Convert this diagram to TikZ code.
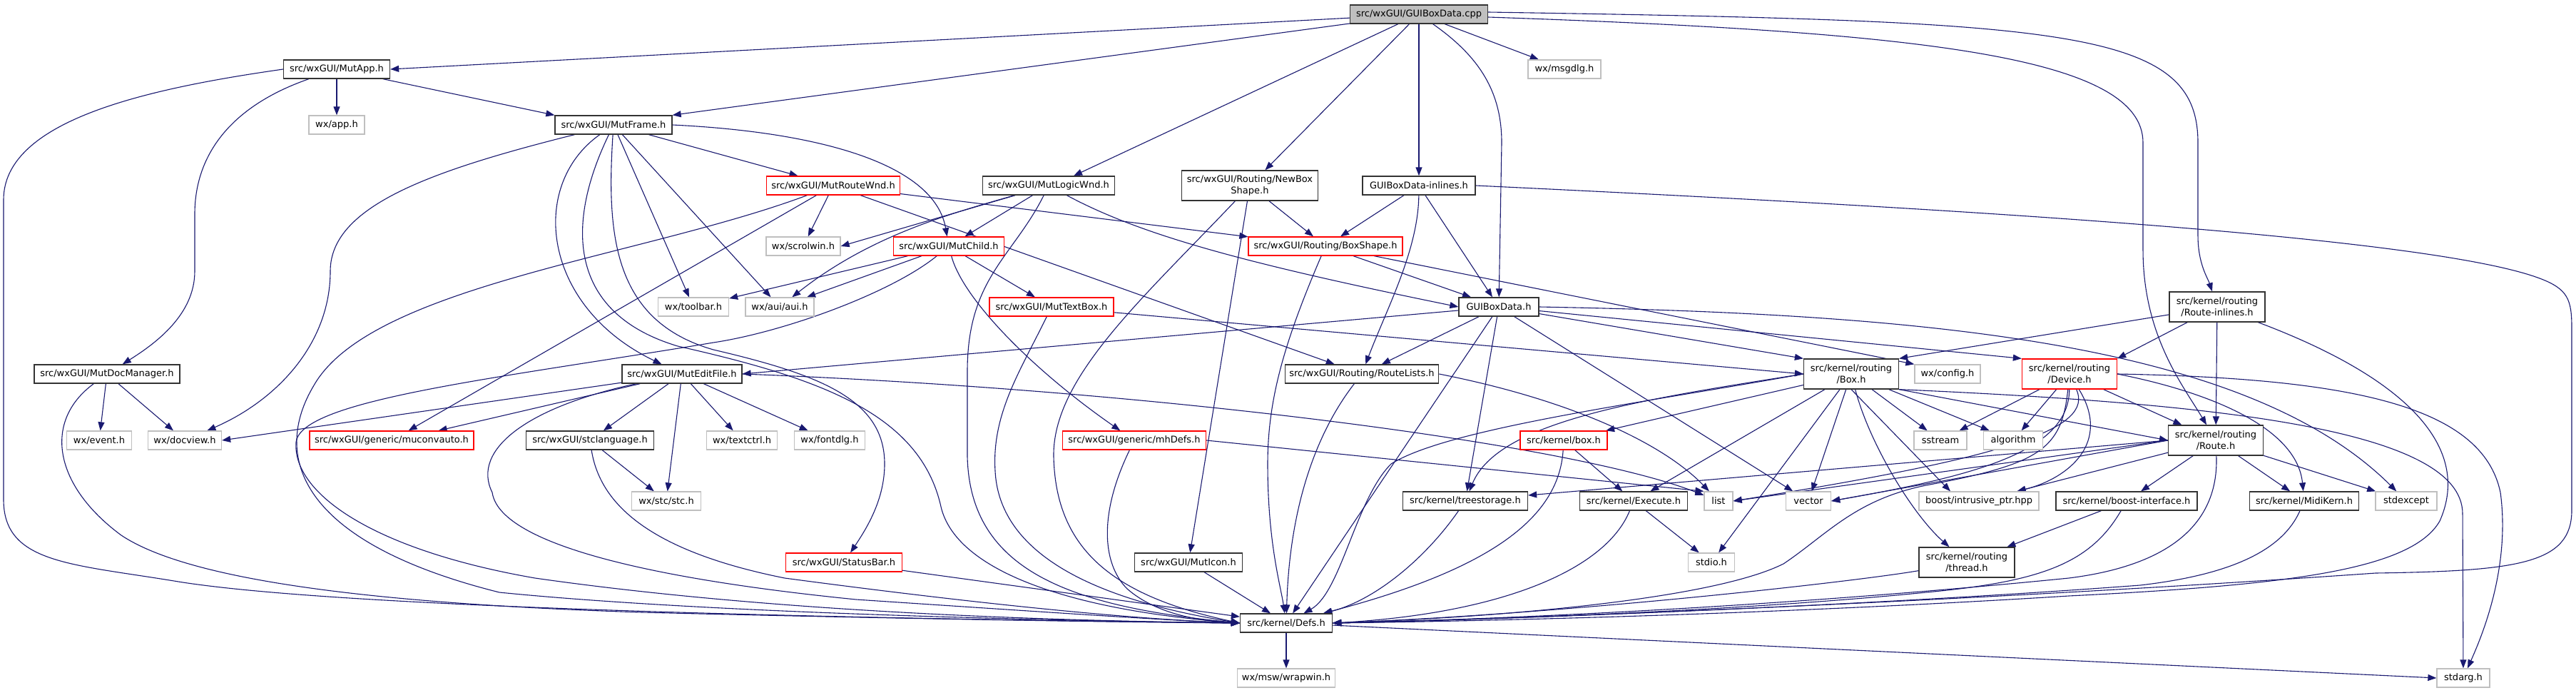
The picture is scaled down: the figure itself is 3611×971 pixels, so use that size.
\documentclass[tikz,border=0pt]{standalone}
\usepackage{fontspec}
\setmainfont{DejaVu Sans}
\usetikzlibrary{arrows.meta}
\definecolor{ebl}{HTML}{191970}
\definecolor{gry}{HTML}{BFBFBF}
\definecolor{rootfill}{HTML}{BFBFBF}
\pgfdeclarelayer{bg}
\pgfdeclarelayer{edges}
\pgfsetlayers{bg,edges,main}
\begin{document}
\begin{tikzpicture}[x=1pt,y=1pt,
 base/.style={rectangle, inner xsep=6pt, inner ysep=0pt, minimum height=26pt, font=\fontsize{13}{15.5}\selectfont, line width=1.3pt, fill=white, text=black, align=center},
 nb/.style={base, draw=black!80},
 nr/.style={base, draw=red},
 ng/.style={base, draw=gry},
 tall/.style={minimum height=42pt},
 e/.style={draw=ebl, line width=1.1pt, -{Triangle[length=12pt,width=9pt]}},
]
\begin{pgfonlayer}{bg}
\fill[white] (0,0) rectangle (3611,-971);
\end{pgfonlayer}
\useasboundingbox (0,0) rectangle (3611,-971);

% nodes
\node[nb,fill=rootfill,minimum width=193pt] (cpp) at (1989,-20) {src/wxGUI/GUIBoxData.cpp};
\node[nb,minimum width=149pt] (mutapp) at (472,-97) {src/wxGUI/MutApp.h};
\node[ng,minimum width=102pt] (msgdlg) at (2193,-97) {wx/msgdlg.h};
\node[ng,minimum width=78pt] (app) at (472,-175) {wx/app.h};
\node[nb,minimum width=164pt] (mutframe) at (860,-175) {src/wxGUI/MutFrame.h};
\node[nr,minimum width=187pt] (mutroute) at (1168,-260) {src/wxGUI/MutRouteWnd.h};
\node[nb,minimum width=185pt] (mutlogic) at (1470,-260) {src/wxGUI/MutLogicWnd.h};
\node[nb,tall,minimum width=191pt] (newbox) at (1752,-260) {src/wxGUI/Routing/NewBox\\Shape.h};
\node[nb,minimum width=158pt] (inl) at (1989,-260) {GUIBoxData-inlines.h};
\node[ng,minimum width=104pt] (scrolwin) at (1126,-345) {wx/scrolwin.h};
\node[nr,minimum width=155pt] (mutchild) at (1330,-345) {src/wxGUI/MutChild.h};
\node[nr,minimum width=216pt] (boxshape) at (1858,-345) {src/wxGUI/Routing/BoxShape.h};
\node[ng,minimum width=99pt] (toolbar) at (972,-430) {wx/toolbar.h};
\node[ng,minimum width=96pt] (aui) at (1093,-430) {wx/aui/aui.h};
\node[nr,minimum width=174pt] (mutextbox) at (1474,-430) {src/wxGUI/MutTextBox.h};
\node[nb,minimum width=112pt] (gbdh) at (2101,-430) {GUIBoxData.h};
\node[nb,tall,minimum width=134pt] (routeinl) at (3108,-430) {src/kernel/routing\\/Route-inlines.h};
\node[nb,minimum width=204pt] (docmgr) at (150,-524) {src/wxGUI/MutDocManager.h};
\node[nb,minimum width=168pt] (mutedit) at (956,-524) {src/wxGUI/MutEditFile.h};
\node[nb,minimum width=215pt] (routelists) at (1909,-524) {src/wxGUI/Routing/RouteLists.h};
\node[nb,tall,minimum width=133pt] (box) at (2595,-524) {src/kernel/routing\\/Box.h};
\node[ng,minimum width=92pt] (config) at (2730,-524) {wx/config.h};
\node[nr,tall,minimum width=133pt] (device) at (2901,-524) {src/kernel/routing\\/Device.h};
\node[ng,minimum width=91pt] (event) at (139,-617) {wx/event.h};
\node[ng,minimum width=103pt] (docview) at (259,-617) {wx/docview.h};
\node[nr,minimum width=230pt] (muconv) at (549,-617) {src/wxGUI/generic/muconvauto.h};
\node[nb,minimum width=179pt] (stclang) at (827,-617) {src/wxGUI/stclanguage.h};
\node[ng,minimum width=99pt] (textctrl) at (1040,-617) {wx/textctrl.h};
\node[ng,minimum width=99pt] (fontdlg) at (1163,-617) {wx/fontdlg.h};
\node[nr,minimum width=201pt] (mhdefs) at (1590,-617) {src/wxGUI/generic/mhDefs.h};
\node[nr,minimum width=122pt] (boxh) at (2192,-617) {src/kernel/box.h};
\node[ng,minimum width=74pt] (sstream) at (2720,-617) {sstream};
\node[ng,minimum width=83pt] (algorithm) at (2822,-617) {algorithm};
\node[nb,tall,minimum width=133pt] (route) at (3106,-617) {src/kernel/routing\\/Route.h};
\node[ng,minimum width=97pt] (stc) at (934,-702) {wx/stc/stc.h};
\node[nb,minimum width=175pt] (treestorage) at (2054,-702) {src/kernel/treestorage.h};
\node[nb,minimum width=151pt] (execute) at (2290,-702) {src/kernel/Execute.h};
\node[ng,minimum width=40pt] (list) at (2409,-702) {list};
\node[ng,minimum width=63pt] (vector) at (2535,-702) {vector};
\node[ng,minimum width=168pt] (intrusive) at (2774,-702) {boost/intrusive\_ptr.hpp};
\node[nb,minimum width=198pt] (boostif) at (2981,-702) {src/kernel/boost-interface.h};
\node[nb,minimum width=153pt] (midikern) at (3230,-702) {src/kernel/MidiKern.h};
\node[ng,minimum width=86pt] (stdexcept) at (3373,-702) {stdexcept};
\node[nr,minimum width=163pt] (statusbar) at (1183,-788) {src/wxGUI/StatusBar.h};
\node[nb,minimum width=151pt] (muticon) at (1666,-788) {src/wxGUI/MutIcon.h};
\node[ng,minimum width=65pt] (stdio) at (2399,-788) {stdio.h};
\node[nb,tall,minimum width=134pt] (thread) at (2757,-788) {src/kernel/routing\\/thread.h};
\node[nb,minimum width=129pt] (defs) at (1803,-873) {src/kernel/Defs.h};
\node[ng,minimum width=137pt] (wrapwin) at (1803,-950) {wx/msw/wrapwin.h};
\node[ng,minimum width=74pt] (stdarg) at (3453,-950) {stdarg.h};

\begin{pgfonlayer}{edges}
% GUIBoxData.cpp
\draw[e] (cpp) -- (mutapp.east);
\draw[e] (cpp) -- (mutframe.north east);
\draw[e] (cpp) -- ([xshift=35pt]mutlogic.north);
\draw[e] (cpp) -- (newbox);
\draw[e] (cpp) -- (inl);
\draw[e] (cpp) .. controls (2075,-80) and (2105,-130) .. (2105,-200) -- (gbdh);
\draw[e] (cpp) -- (msgdlg);
\draw[e] ([yshift=3pt]cpp.east) .. controls (2900,-30) and (3081,-40) .. (3081,-200) -- (3081,-330) .. controls (3081,-370) and (3095,-390) .. (routeinl);
\draw[e] ([yshift=-4pt]cpp.east) .. controls (2700,-45) and (3004,-80) .. (3004,-200) -- (3004,-350) .. controls (3004,-470) and (3060,-540) .. (route);
% MutApp
\draw[e] (mutapp) -- (app);
\draw[e] (mutapp) -- (mutframe.north west);
\draw[e] (mutapp) .. controls (320,-150) and (273,-220) .. (273,-300) -- (273,-380) .. controls (273,-440) and (220,-480) .. (docmgr);
\draw[e] (mutapp.west) .. controls (200,-125) and (5,-170) .. (5,-280) -- (5,-700) .. controls (5,-790) and (100,-790) .. (250,-815) .. controls (500,-855) and (1300,-868) .. (defs.west);
% MutDocManager
\draw[e] (docmgr) -- (event);
\draw[e] (docmgr) -- (docview);
\draw[e] (docmgr) .. controls (60,-590) and (75,-680) .. (170,-750) .. controls (260,-810) and (500,-845) .. (900,-858) .. controls (1300,-868) and (1600,-872) .. (defs.west);
% MutFrame
\draw[e] (mutframe) .. controls (600,-240) and (463,-290) .. (463,-380) .. controls (463,-480) and (390,-560) .. (docview);
\draw[e] (mutframe) -- (mutroute);
\draw[e] (mutframe.east) .. controls (1150,-185) and (1310,-230) .. (mutchild);
\draw[e] (mutframe) -- (toolbar);
\draw[e] (mutframe) -- (aui);
\draw[e] (mutframe) .. controls (740,-260) and (760,-430) .. (mutedit);
\draw[e] (mutframe) .. controls (850,-330) and (860,-450) .. (1000,-490) .. controls (1150,-525) and (1240,-560) .. (1240,-650) .. controls (1240,-700) and (1215,-740) .. (statusbar);
\draw[e] (mutframe) .. controls (790,-320) and (800,-440) .. (950,-485) .. controls (1150,-530) and (1290,-580) .. (1319,-710) .. controls (1340,-800) and (1500,-855) .. (defs.west);
% MutRouteWnd
\draw[e] (mutroute) -- (scrolwin);
\draw[e] (mutroute) -- (boxshape);
\draw[e] (mutroute) -- (routelists);
\draw[e] (mutroute) -- (muconv);
\draw[e] (mutroute) .. controls (900,-360) and (520,-400) .. (440,-540) .. controls (380,-640) and (420,-760) .. (700,-830) .. controls (1000,-860) and (1500,-870) .. (defs.west);
% MutLogicWnd
\draw[e] (mutlogic) -- (scrolwin.east);
\draw[e] (mutlogic) .. controls (1330,-300) and (1220,-330) .. (aui);
\draw[e] (mutlogic) -- (mutchild);
\draw[e] (mutlogic) .. controls (1600,-330) and (1750,-370) .. (gbdh.west);
\draw[e] (mutlogic) .. controls (1420,-360) and (1356,-390) .. (1356,-520) -- (1356,-640) .. controls (1360,-800) and (1500,-850) .. (defs.west);
% MutChild
\draw[e] (mutchild) -- (toolbar);
\draw[e] (mutchild) -- (aui);
\draw[e] (mutchild) -- (mutextbox);
\draw[e] (mutchild) .. controls (1350,-420) and (1450,-520) .. (mhdefs);
\draw[e] (mutchild) .. controls (1250,-410) and (1100,-465) .. (1000,-480) .. controls (700,-530) and (420,-560) .. (415,-620) .. controls (410,-690) and (520,-770) .. (750,-810) .. controls (1100,-860) and (1500,-870) .. (defs.west);
% MutTextBox
\draw[e] (mutextbox) -- (box.west);
\draw[e] (mutextbox) .. controls (1430,-520) and (1390,-580) .. (1395,-660) .. controls (1400,-760) and (1500,-835) .. (defs.west);
% NewBoxShape
\draw[e] (newbox) -- (boxshape);
\draw[e] (newbox) -- (muticon);
\draw[e] (newbox) .. controls (1600,-420) and (1475,-530) .. (1477,-640) .. controls (1480,-770) and (1560,-835) .. (defs.west);
% GUIBoxData-inlines
\draw[e] (inl) -- (boxshape);
\draw[e] (inl) -- (gbdh);
\draw[e] (inl) .. controls (1988,-350) and (1945,-430) .. (routelists);
\draw[e] (inl.east) .. controls (2700,-290) and (3400,-330) .. (3560,-390) .. controls (3600,-405) and (3605,-420) .. (3605,-460) -- (3605,-715) .. controls (3605,-790) and (3530,-800) .. (3330,-803) .. controls (2800,-840) and (2200,-865) .. (defs.east);
% BoxShape
\draw[e] (boxshape) -- (gbdh);
\draw[e] (boxshape) .. controls (1800,-480) and (1777,-560) .. (1777,-650) .. controls (1777,-760) and (1795,-820) .. (defs);
\draw[e] (boxshape) -- (config.north west);
% GUIBoxData.h
\draw[e] (gbdh) -- (mutedit.east);
\draw[e] (gbdh) -- (routelists);
\draw[e] (gbdh) -- (box.north west);
\draw[e] (gbdh) -- (device.north west);
\draw[e] (gbdh) -- (treestorage);
\draw[e] (gbdh) -- (defs);
\draw[e] (gbdh) -- (vector);
\draw[e] (gbdh.east) .. controls (2700,-440) and (3150,-480) .. (stdexcept);
% RouteLists
\draw[e] (routelists.east) .. controls (2200,-560) and (2330,-620) .. (list);
\draw[e] (routelists) .. controls (1850,-600) and (1808,-700) .. (defs);
% MutEditFile
\draw[e] (mutedit) -- (docview.east);
\draw[e] (mutedit) -- ([xshift=-50pt]muconv.north east);
\draw[e] (mutedit) -- (stclang);
\draw[e] (mutedit) -- (stc);
\draw[e] (mutedit) -- (textctrl);
\draw[e] (mutedit) -- (fontdlg);
\draw[e] (mutedit.east) .. controls (1600,-545) and (2200,-620) .. (list);
\draw[e] (mutedit) .. controls (740,-570) and (660,-630) .. (690,-690) .. controls (700,-760) and (900,-810) .. (1200,-840) .. controls (1500,-860) and (1650,-870) .. (defs.west);
% stclanguage
\draw[e] (stclang) -- (stc);
\draw[e] (stclang) .. controls (840,-700) and (900,-770) .. (1100,-810) .. controls (1400,-850) and (1600,-868) .. (defs.west);
% StatusBar, mhDefs, MutIcon
\draw[e] (statusbar) -- (defs);
\draw[e] (mhdefs.east) -- (list.north west);
\draw[e] (mhdefs) .. controls (1540,-720) and (1545,-790) .. (1580,-825) .. controls (1620,-860) and (1680,-870) .. (defs.west);
\draw[e] (muticon) -- (defs);
% Defs
\draw[e] (defs) -- (wrapwin);
\draw[e] (defs) -- (stdarg.west);
% Box.h
\draw[e] (box) -- (sstream);
\draw[e] (box) -- (algorithm);
\draw[e] (box) -- (vector);
\draw[e] (box) -- (stdio);
\draw[e] (box) .. controls (2620,-620) and (2680,-720) .. (thread);
\draw[e] (box.south) -- ([xshift=-40pt]intrusive.north);
\draw[e] (box) -- (boxh);
\draw[e] (box) -- (execute);
\draw[e] (box.west) .. controls (2300,-560) and (2100,-590) .. (treestorage);
\draw[e] (box.west) .. controls (2300,-565) and (2030,-600) .. (1950,-650) .. controls (1900,-700) and (1880,-830) .. (defs);
\draw[e] (box.south east) .. controls (3100,-565) and (3452,-600) .. (3452,-720) -- (stdarg);
\draw[e] (box.south east) -- (route.west);
% box.h
\draw[e] (boxh) -- (execute);
\draw[e] (boxh) .. controls (2185,-730) and (2080,-800) .. (defs);
% treestorage, Execute
\draw[e] (treestorage) .. controls (2000,-780) and (1930,-840) .. (defs);
\draw[e] (execute) -- (stdio);
\draw[e] (execute) .. controls (2250,-800) and (2100,-860) .. (defs.east);
% Device.h
\draw[e] (device) -- (sstream);
\draw[e] (device) -- (algorithm);
\draw[e] (device) .. controls (2900,-630) and (2780,-665) .. (vector.east);
\draw[e] (device) .. controls (2935,-600) and (2820,-640) .. (list.east);
\draw[e] (device) .. controls (2960,-620) and (2900,-670) .. (intrusive);
\draw[e] (device) .. controls (2890,-630) and (2860,-650) .. (2700,-680) .. controls (2600,-700) and (2560,-750) .. (2500,-790) .. controls (2400,-840) and (2100,-865) .. (defs.east);
\draw[e] (device) -- (route);
\draw[e] (device.east) .. controls (3100,-550) and (3220,-600) .. (midikern);
\draw[e] (device.east) .. controls (3300,-530) and (3480,-570) .. (3505,-690) .. controls (3520,-800) and (3475,-900) .. (stdarg);
% Route.h
\draw[e] (route.west) -- (list.east);
\draw[e] (route.west) -- (vector.east);
\draw[e] (route.west) -- ([yshift=8pt]treestorage.east);
\draw[e] (route) -- (intrusive);
\draw[e] (route) -- (boostif);
\draw[e] (route) -- (midikern);
\draw[e] (route) -- (stdexcept);
\draw[e] (route) .. controls (3110,-720) and (3060,-790) .. (2900,-810) .. controls (2500,-850) and (2100,-868) .. (defs.east);
% boost-interface, thread, MidiKern
\draw[e] (boostif) -- (thread);
\draw[e] (boostif) .. controls (2930,-790) and (2860,-815) .. (2700,-830) .. controls (2400,-860) and (2000,-870) .. (defs.east);
\draw[e] (thread) .. controls (2600,-815) and (2200,-860) .. (defs.east);
\draw[e] (midikern) .. controls (3200,-770) and (3130,-805) .. (3000,-820) .. controls (2600,-850) and (2100,-868) .. (defs.east);
% Route-inlines
\draw[e] (routeinl) -- (box.north east);
\draw[e] (routeinl) -- (device.north east);
\draw[e] (routeinl) -- (route);
\draw[e] (routeinl) .. controls (3400,-540) and (3460,-640) .. (3420,-730) .. controls (3380,-800) and (3200,-820) .. (2900,-835) .. controls (2500,-860) and (2100,-870) .. (defs.east);
\end{pgfonlayer}
\end{tikzpicture}
\end{document}
